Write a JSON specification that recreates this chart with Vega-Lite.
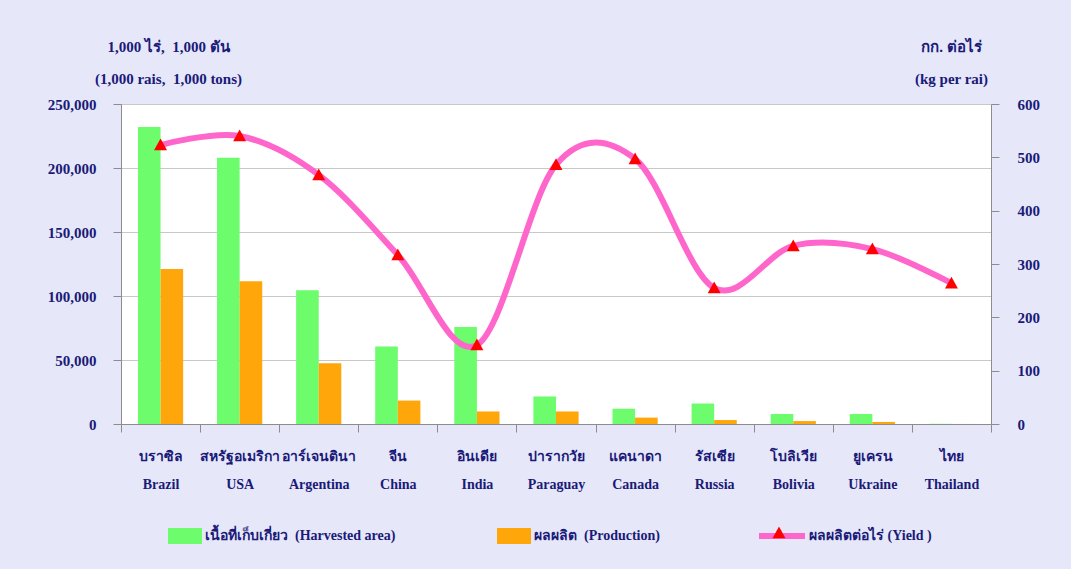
{
  "$schema": "https://vega.github.io/schema/vega-lite/v6.json",
  "width": 870,
  "height": 320,
  "autosize": {"type": "none"},
  "padding": {"left": 121, "top": 104, "right": 80, "bottom": 145},
  "background": "#e6e7f8",
  "config": {
    "font": "Liberation Serif",
    "view": {"fill": "white", "stroke": "#c4c4c4"},
    "axis": {
      "labelFont": "Liberation Serif",
      "labelFontWeight": "bold",
      "labelColor": "#1a1a78",
      "titleFont": "Liberation Serif",
      "titleFontWeight": "bold",
      "titleColor": "#1a1a78",
      "domainColor": "#8c8c8c",
      "tickColor": "#8c8c8c",
      "tickSize": 8,
      "gridColor": "#c8c8c8"
    },
    "legend": {
      "labelFont": "Liberation Serif",
      "labelFontWeight": "bold",
      "labelColor": "#1a1a78",
      "labelFontSize": 14,
      "labelLimit": 400,
      "padding": 0
    }
  },
  "data": {
    "values": [
      {"country": "Brazil", "harvested": 232000, "production": 121000, "yield": 523},
      {"country": "USA", "harvested": 208000, "production": 111500, "yield": 540},
      {"country": "Argentina", "harvested": 104500, "production": 47500, "yield": 467},
      {"country": "China", "harvested": 60500, "production": 18300, "yield": 317},
      {"country": "India", "harvested": 75800, "production": 9800, "yield": 148},
      {"country": "Paraguay", "harvested": 21500, "production": 9800, "yield": 486},
      {"country": "Canada", "harvested": 12000, "production": 5000, "yield": 497},
      {"country": "Russia", "harvested": 16000, "production": 3100, "yield": 255},
      {"country": "Bolivia", "harvested": 7800, "production": 2300, "yield": 334},
      {"country": "Ukraine", "harvested": 7800, "production": 1600, "yield": 328},
      {"country": "Thailand", "harvested": 150, "production": 40, "yield": 264}
    ]
  },
  "layer": [
    {
      "transform": [{"fold": ["harvested", "production"], "as": ["series", "value"]}],
      "mark": {"type": "bar", "opacity": 1},
      "encoding": {
        "x": {
          "field": "country",
          "type": "nominal",
          "sort": null,
          "scale": {"paddingInner": 0, "paddingOuter": 0},
          "axis": {
            "title": null,
            "labelAngle": 0,
            "labelFontSize": 14,
            "labelLineHeight": 28,
            "labelPadding": 17,
            "tickBand": "extent",
            "labelExpr": "[{'Brazil':'บราซิล','USA':'สหรัฐอเมริกา','Argentina':'อาร์เจนตินา','China':'จีน','India':'อินเดีย','Paraguay':'ปารากวัย','Canada':'แคนาดา','Russia':'รัสเซีย','Bolivia':'โบลิเวีย','Ukraine':'ยูเครน','Thailand':'ไทย'}[datum.value], datum.value]"
          }
        },
        "xOffset": {
          "field": "series",
          "sort": ["harvested", "production"],
          "scale": {"paddingInner": 0, "paddingOuter": 0.75}
        },
        "y": {
          "field": "value",
          "type": "quantitative",
          "scale": {"domain": [0, 250000], "nice": false},
          "axis": {
            "values": [0, 50000, 100000, 150000, 200000, 250000],
            "format": ",.0f",
            "labelFontSize": 15,
            "labelPadding": 17,
            "grid": true,
            "title": ["1,000 ไร่,\u00a0 1,000 ตัน", "(1,000 rais,\u00a0 1,000 tons)"],
            "titleFontSize": 15,
            "titleAngle": 0,
            "titleAlign": "center",
            "titleBaseline": "alphabetic",
            "titleLineHeight": 32,
            "titleX": 47,
            "titleY": -53
          }
        },
        "color": {
          "field": "series",
          "type": "nominal",
          "scale": {"domain": ["harvested", "production"], "range": ["#6cfc6c", "#ffa60a"]},
          "legend": {
            "orient": "none",
            "legendX": 47,
            "legendY": 415,
            "direction": "horizontal",
            "columns": 2,
            "columnPadding": 101,
            "title": null,
            "symbolType": "M-1,-0.47H1V0.47H-1Z",
            "symbolSize": 1156,
            "symbolStrokeWidth": 0,
            "symbolOpacity": 1,
            "labelOffset": 3,
            "labelExpr": "datum.value == 'harvested' ? 'เนื้อที่เก็บเกี่ยว\u00a0 (Harvested area)' : 'ผลผลิต\u00a0 (Production)'"
          }
        }
      }
    },
    {
      "encoding": {
        "x": {"field": "country", "type": "nominal", "sort": null},
        "y": {
          "field": "yield",
          "type": "quantitative",
          "scale": {"domain": [0, 600], "nice": false},
          "axis": {
            "orient": "right",
            "values": [0, 100, 200, 300, 400, 500, 600],
            "labelFontSize": 15,
            "labelPadding": 18,
            "grid": false,
            "title": ["กก. ต่อไร่", "(kg per rai)"],
            "titleFontSize": 15,
            "titleAngle": 0,
            "titleAlign": "center",
            "titleBaseline": "alphabetic",
            "titleLineHeight": 32,
            "titleX": -40,
            "titleY": -53
          }
        }
      },
      "layer": [
        {
          "mark": {"type": "line", "interpolate": "cardinal", "tension": 0, "strokeWidth": 6},
          "encoding": {
            "stroke": {
              "datum": "ผลผลิตต่อไร่ (Yield )",
              "scale": {"range": ["#ff66cc"]},
              "legend": {
                "orient": "none",
                "legendX": 635,
                "legendY": 406,
                "title": null,
                "symbolType": "stroke",
                "symbolSize": 2116,
                "symbolStrokeWidth": 6,
                "labelOffset": 1
              }
            }
          }
        },
        {
          "mark": {"type": "point", "filled": true, "color": "#ff0000", "opacity": 1, "size": 2304},
          "encoding": {
            "shape": {
              "datum": "marker",
              "scale": {"range": ["M-0.27,0.22L0,-0.27L0.27,0.22Z"]},
              "legend": {
                "orient": "none",
                "legendX": 634,
                "legendY": 405,
                "title": null,
                "symbolSize": 2304,
                "symbolFillColor": "#ff0000",
                "symbolStrokeWidth": 0,
                "symbolOpacity": 1,
                "labelOpacity": 0,
                "labelExpr": "''"
              }
            }
          }
        }
      ]
    }
  ],
  "resolve": {"scale": {"y": "independent"}}
}
